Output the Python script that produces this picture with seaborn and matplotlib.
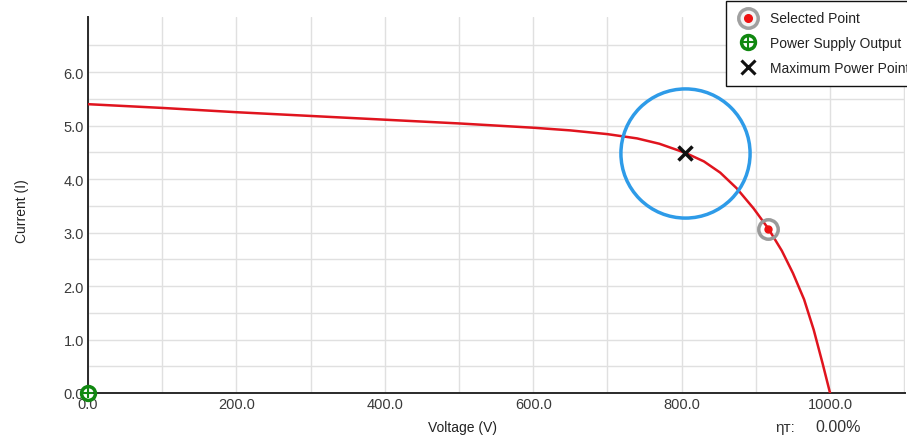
import numpy as np
import pandas as pd
import matplotlib
matplotlib.use("Agg")
import matplotlib.pyplot as plt
from matplotlib.lines import Line2D
import seaborn as sns

# ---- data ----
voltage = [0, 100, 200, 300, 400, 500, 550, 600, 650, 700, 740, 770, 805, 830, 852,
           874, 897, 917, 935, 950, 965, 978, 990, 1000]
current = [5.40, 5.33, 5.25, 5.18, 5.11, 5.04, 5.00, 4.96, 4.91, 4.84, 4.76, 4.66, 4.49, 4.33, 4.12,
           3.83, 3.45, 3.07, 2.66, 2.24, 1.75, 1.18, 0.55, 0.0]
mpp_point = [805, 4.49]
selected_point = [917, 3.07]
supply_point = [0, 0]
x_ticks = [0, 200, 400, 600, 800, 1000]
x_tick_labels = ["0.0", "200.0", "400.0", "600.0", "800.0", "1000.0"]
y_ticks = [0, 1, 2, 3, 4, 5, 6]
y_tick_labels = ["0.0", "1.0", "2.0", "3.0", "4.0", "5.0", "6.0"]
legend_labels = ["Selected Point", "Power Supply Output", "Maximum Power Point"]
efficiency_text = "0.00%"

sns.set_theme(style="white")
plt.rcParams['font.family'] = ['Liberation Sans', 'DejaVu Sans']

fig = plt.figure(figsize=(9.07, 4.39), dpi=100)
ax = fig.add_axes([88/907, 1-394/439, (905-88)/907, (394-18)/439])

df = pd.DataFrame({"Voltage": voltage, "Current": current})
sns.lineplot(data=df, x="Voltage", y="Current", ax=ax, color="#e0141e", lw=1.8, zorder=3)

ax.set_xlim(0, 1101)
ax.set_ylim(0, 7.03)
ax.set_xticks(x_ticks)
ax.set_xticklabels(x_tick_labels)
ax.set_yticks(y_ticks)
ax.set_yticklabels(y_tick_labels)
ax.set_xticks(np.arange(100, 1101, 200), minor=True)
ax.set_yticks(np.arange(0.5, 7.0, 1.0), minor=True)
ax.grid(True, which="both", color="#e0e0e0", lw=1)
ax.tick_params(which="both", length=0, labelsize=10.5, colors="#3a3a3a", pad=3)

for s in ["top", "right"]:
    ax.spines[s].set_visible(False)
for s in ["left", "bottom"]:
    ax.spines[s].set_color("#2a2a2a")
    ax.spines[s].set_linewidth(1.4)

ax.set_xlabel("Voltage (V)", fontsize=10, color="#222222")
ax.xaxis.set_label_coords((462-88)/817, -(428-394)/376)
ax.set_ylabel("Current (I)", fontsize=10, color="#222222")
ax.yaxis.set_label_coords((22-88)/817, (394-211)/376)
ax.xaxis.label.set_va("center")
ax.yaxis.label.set_va("center")

# blue highlight circle around MPP
ax.plot([mpp_point[0]], [mpp_point[1]], marker="o", markersize=93, mfc="none",
        mec="#2e9be8", mew=2.5, zorder=4)
# MPP cross
ax.plot([mpp_point[0]], [mpp_point[1]], marker="x", markersize=10, mec="#111111",
        mew=2.5, ls="none", zorder=6)
# selected point
ax.plot([selected_point[0]], [selected_point[1]], marker="o", markersize=14, mfc="none",
        mec="#9a9a9a", mew=2.5, ls="none", zorder=5)
ax.plot([selected_point[0]], [selected_point[1]], marker="o", markersize=5, mfc="#ee1111",
        mec="#ee1111", ls="none", zorder=6)
# power supply output
ax.plot([supply_point[0]], [supply_point[1]], marker="o", markersize=10, mfc="none",
        mec="#118811", mew=2.5, ls="none", zorder=6, clip_on=False)
ax.plot([supply_point[0]], [supply_point[1]], marker="+", markersize=7, mec="#118811",
        mew=1.5, ls="none", zorder=6, clip_on=False)

# legend
h_sel = (Line2D([], [], marker="o", ms=14, mfc="#f4f4f4", mec="#a0a0a0", mew=2.5, ls="none"),
         Line2D([], [], marker="o", ms=5.5, mfc="#ee1111", mec="#ee1111", ls="none"))
h_sup = (Line2D([], [], marker="o", ms=10, mfc="none", mec="#118811", mew=2.5, ls="none"),
         Line2D([], [], marker="+", ms=10, mec="#118811", mew=1.5, ls="none"))
h_mpp = Line2D([], [], marker="x", ms=10, mec="#111111", mew=2.2, ls="none")
leg = fig.legend([h_sel, h_sup, h_mpp], legend_labels, loc="upper left",
                 bbox_to_anchor=(726/907, 1 - 2/439), borderaxespad=0, fontsize=10,
                 frameon=True, fancybox=False, edgecolor="#111111", framealpha=1,
                 handletextpad=0.8, labelspacing=0.78, borderpad=0.75, handlelength=1.6)
leg.get_frame().set_linewidth(1.0)
for t in leg.get_texts():
    t.set_color("#222222")

fig.text(775/907, 1-428/439, "ηт:", fontsize=11, color="#333333", va="center", ha="left")
fig.text(815/907, 1-428/439, efficiency_text, fontsize=11.5, color="#333333", va="center", ha="left")

fig.savefig("out.png", dpi=100)
